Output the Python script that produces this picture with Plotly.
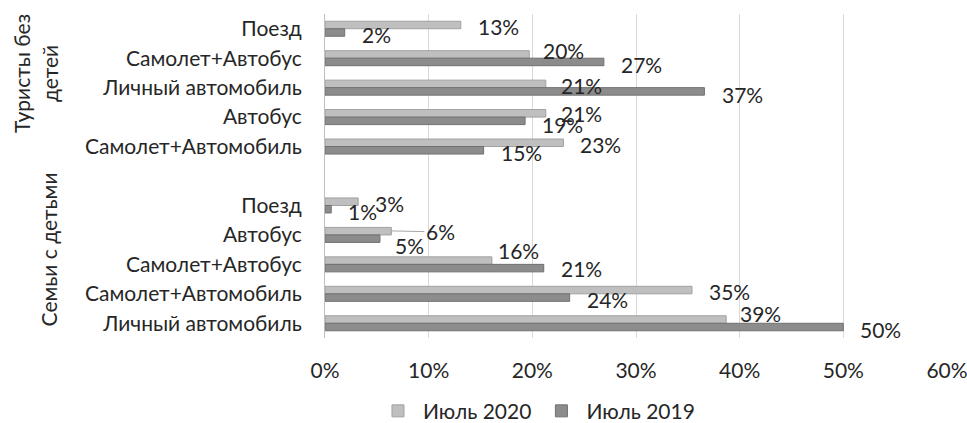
import plotly.graph_objects as go

# Survey shares (%) of travel modes, July 2020 vs July 2019
groups = ["Туристы без<br>детей", "Семьи с детьми"]

tourist_modes = ["Поезд", "Самолет+Автобус", "Личный автомобиль", "Автобус", "Самолет+Автомобиль"]
tourist_2020 = [13.1, 19.7, 21.3, 21.3, 23.0]
tourist_2019 = [1.9, 26.9, 36.6, 19.3, 15.3]

family_modes = ["Поезд", "Автобус", "Самолет+Автобус", "Самолет+Автомобиль", "Личный автомобиль"]
family_2020 = [3.2, 6.4, 16.1, 35.4, 38.7]
family_2019 = [0.6, 5.3, 21.1, 23.6, 50.0]

series_names = ["Июль 2020", "Июль 2019"]
x_ticks = [0, 10, 20, 30, 40, 50, 60]

FONT = "Lato"
TEXT = "#262626"
FILL = ["#BFBFBF", "#8C8C8C"]
EDGE = ["#A0A0A0", "#707070"]

# row slots: tourists first, one empty slot, then families
modes = tourist_modes + family_modes
rows = list(range(len(tourist_modes))) + [len(tourist_modes) + 1 + i for i in range(len(family_modes))]
vals = [tourist_2020 + family_2020, tourist_2019 + family_2019]

fig = go.Figure()
for k in range(2):
    fig.add_trace(go.Bar(
        y=rows, x=vals[k], orientation="h", name=series_names[k],
        marker=dict(color=FILL[k], line=dict(color=EDGE[k], width=1)),
        hoverinfo="skip",
    ))

# label nudges in px (dx right, dy down) for labels moved off their default spot
nudge = {
    (0, 1): (12, -4), (0, 2): (13, 2), (0, 3): (13, 0),
    (1, 2): (16, 3), (1, 3): (15, 3),
    (1, 7): (13, 7), (0, 8): (4, -10), (1, 8): (15, 0),
    (0, 10): (12, -6),
}
leader = {(0, 7): (49, 1)}

BAR_OFF = 4
annotations = []
for k in range(2):
    for j, (r, v) in enumerate(zip(rows, vals[k])):
        base_dy = -BAR_OFF if k == 0 else BAR_OFF
        key = (k, r)
        if key in leader:
            ax, ay = leader[key]
            annotations.append(dict(
                x=v, y=r, xref="x", yref="y", text=f"{v:.0f}%",
                showarrow=True, arrowhead=0, arrowwidth=1, arrowcolor="#A6A6A6",
                ax=ax, ay=ay, yshift=-base_dy, standoff=0,
                font=dict(family=FONT, size=21, color=TEXT),
            ))
            continue
        dx, dy = nudge.get(key, (15, 2))
        annotations.append(dict(
            x=v, y=r, xref="x", yref="y", text=f"{v:.0f}%",
            showarrow=False, xanchor="left", yanchor="middle",
            xshift=dx, yshift=-(base_dy + dy),
            font=dict(family=FONT, size=21, color=TEXT),
        ))

# group captions on the left, rotated
annotations.append(dict(
    text=groups[0], xref="paper", yref="paper", x=-0.466, y=0.815,
    showarrow=False, textangle=-90, xanchor="center", yanchor="middle",
    font=dict(family=FONT, size=21, color=TEXT),
))
annotations.append(dict(
    text=groups[1], xref="paper", yref="paper", x=-0.445, y=0.274,
    showarrow=False, textangle=-90, xanchor="center", yanchor="middle",
    font=dict(family=FONT, size=21, color=TEXT),
))

fig.update_layout(
    width=967, height=423,
    margin=dict(l=325, r=20, t=14, b=85, autoexpand=False),
    paper_bgcolor="white", plot_bgcolor="white",
    barmode="group", bargap=0.49, bargroupgap=0,
    font=dict(family=FONT, size=21, color=TEXT),
    showlegend=True,
    legend=dict(orientation="h", x=0.34, xanchor="center", y=-0.226, yanchor="middle",
                font=dict(family=FONT, size=21, color=TEXT), traceorder="normal",
                itemwidth=40, tracegroupgap=0),
    annotations=annotations,
)
fig.update_xaxes(
    range=[0, 60], tickvals=x_ticks, ticktext=[f"{t}%" for t in x_ticks],
    showgrid=True, gridcolor="#D9D9D9", gridwidth=1, zeroline=False,
    ticks="outside", ticklen=14, tickcolor="rgba(0,0,0,0)",
    ticklabeloverflow="allow",
    tickfont=dict(family=FONT, size=21, color=TEXT),
)
fig.update_yaxes(
    range=[len(rows) + 0.5, -0.5], tickvals=rows, ticktext=modes,
    showgrid=False, zeroline=False, showline=True, linecolor="#BFBFBF", linewidth=1,
    ticks="outside", ticklen=18, tickcolor="rgba(0,0,0,0)",
    tickfont=dict(family=FONT, size=21, color=TEXT),
)

fig.write_html("out.html")
